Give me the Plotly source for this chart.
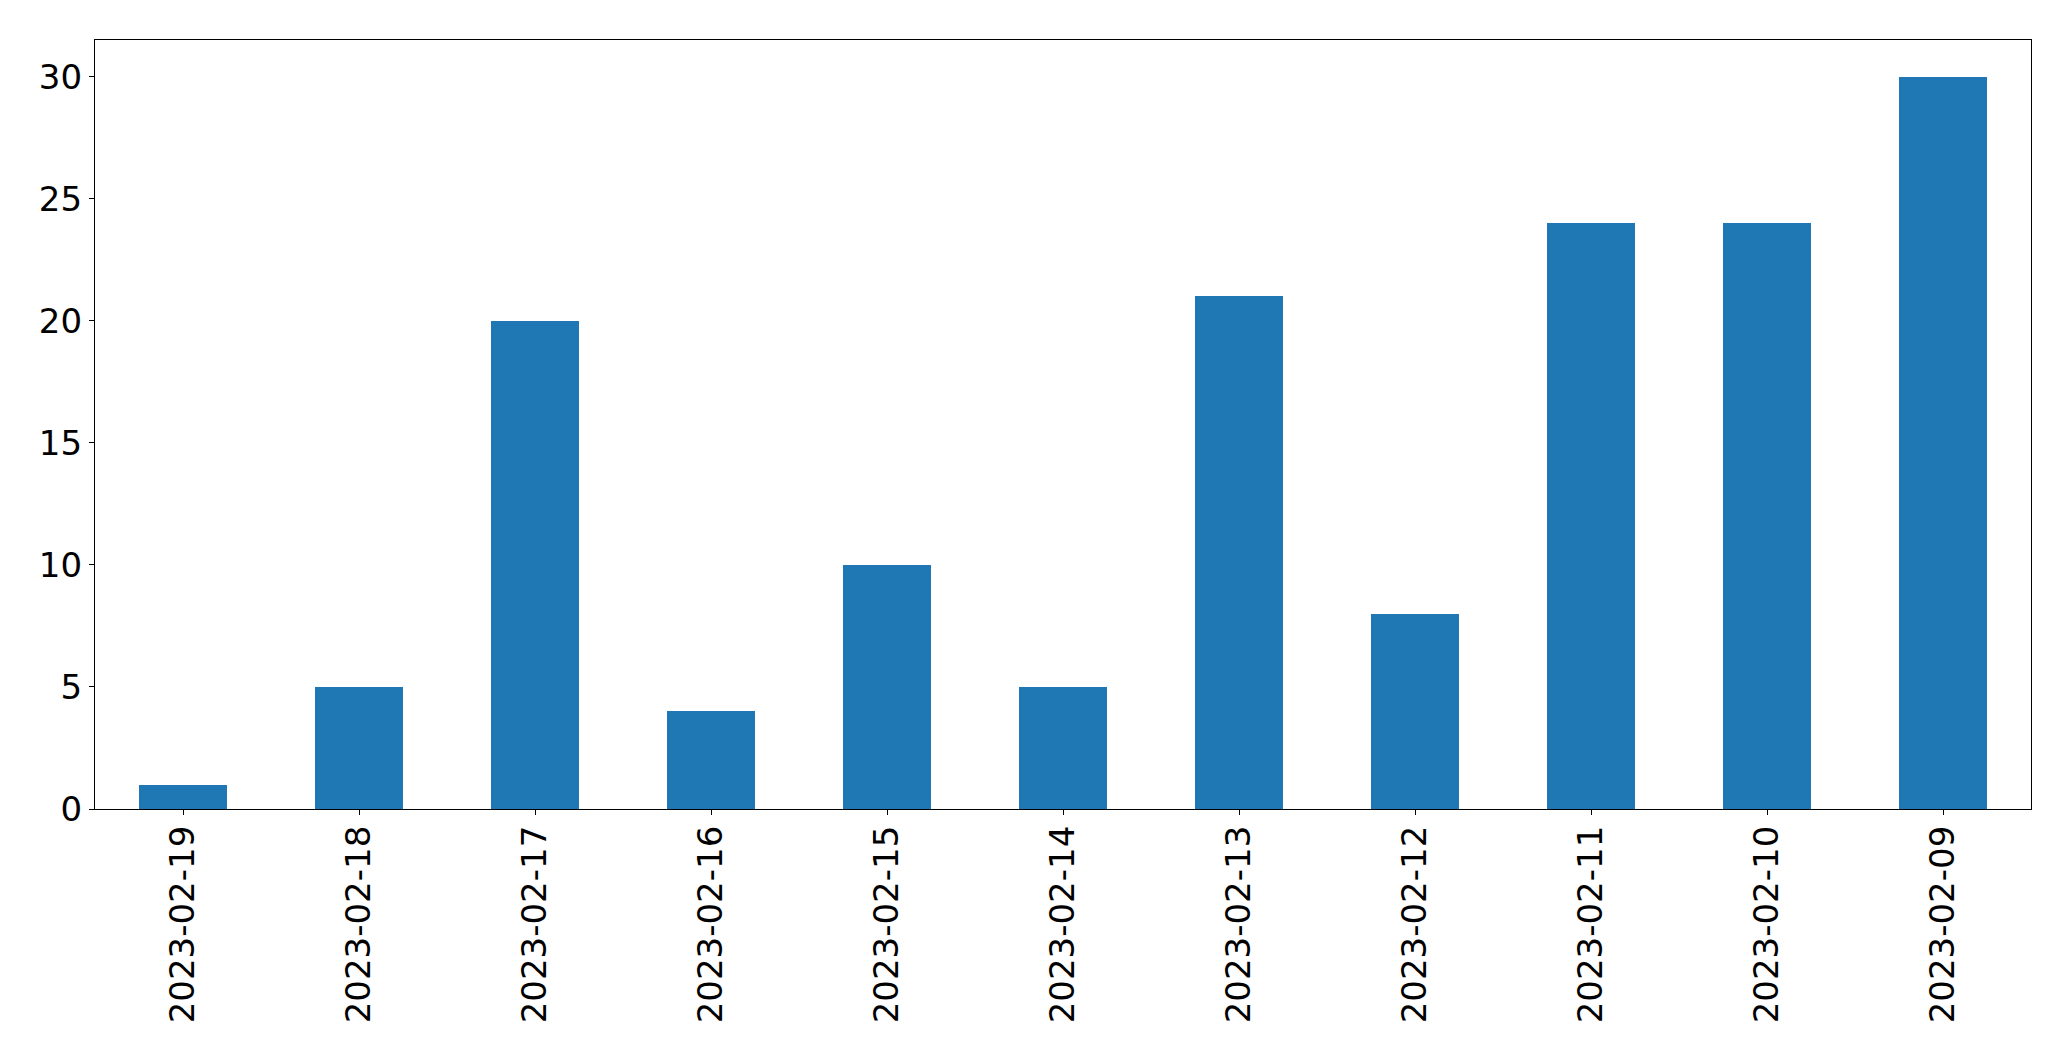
import plotly.graph_objects as go

dates = ["2023-02-19", "2023-02-18", "2023-02-17", "2023-02-16", "2023-02-15",
         "2023-02-14", "2023-02-13", "2023-02-12", "2023-02-11", "2023-02-10", "2023-02-09"]
counts = [1, 5, 20, 4, 10, 5, 21, 8, 24, 24, 30]
y_ticks = [0, 5, 10, 15, 20, 25, 30]

fig = go.Figure(go.Bar(x=dates, y=counts, width=0.5, marker_color="#1f77b4",
                       marker_line_width=0))

font = dict(family="DejaVu Sans", size=34, color="black")
fig.update_layout(
    width=2071, height=1061,
    margin=dict(l=94.5, r=39.5, t=39.5, b=252, pad=0),
    plot_bgcolor="white", paper_bgcolor="white",
    showlegend=False, bargap=0,
    font=font,
)
fig.update_xaxes(type="category", range=[-0.5, len(dates) - 0.5], tickangle=-90,
                 showline=True, mirror=True, linecolor="black", linewidth=1.3,
                 ticks="outside", ticklen=5, tickwidth=1.3, tickcolor="black",
                 ticklabelstandoff=-3,
                 showgrid=False, zeroline=False, tickfont=font, automargin=False)
fig.update_yaxes(range=[0, 31.5], tickvals=y_ticks, ticktext=[str(v) for v in y_ticks],
                 showline=True, mirror=True, linecolor="black", linewidth=1.3,
                 ticks="outside", ticklen=5, tickwidth=1.3, tickcolor="black",
                 showgrid=False, zeroline=False, tickfont=font, automargin=False)

fig.write_html(
    "out.html",
    config={"displayModeBar": False},
    post_script="document.body.style.margin='0';document.body.style.overflow='hidden';",
)
